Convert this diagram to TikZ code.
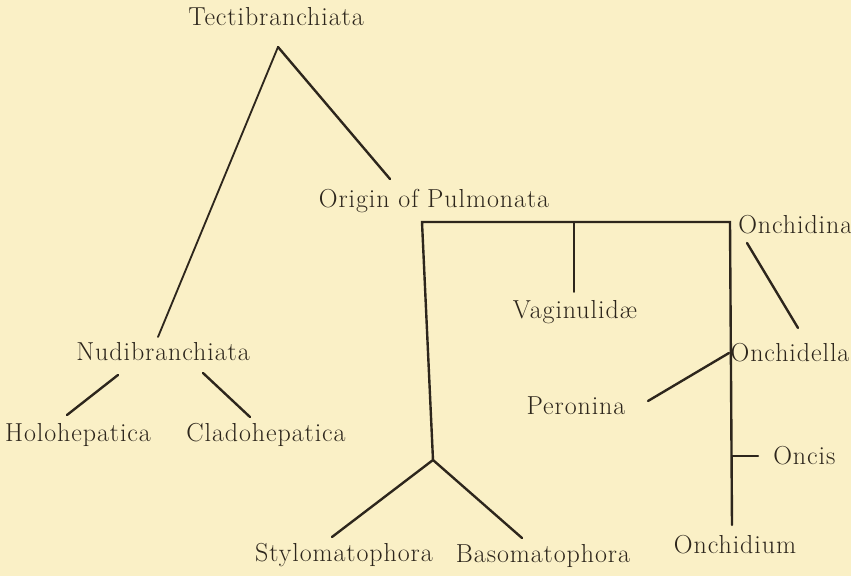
\documentclass[tikz,border=0pt]{standalone}
\usepackage{fontspec}
\setmainfont{Latin Modern Roman}[LetterSpace=3.5]
\definecolor{paper}{RGB}{250,240,198}
\definecolor{ink}{RGB}{45,38,28}
\begin{document}
\begin{tikzpicture}[x=0.025cm,y=-0.025cm,
  lbl/.style={inner sep=0pt,text=ink,font=\fontsize{18.5}{21}\selectfont},
  br/.style={draw=ink,line width=1.7pt,line cap=round,line join=miter},
  thin br/.style={br,line width=1.3pt}]
\fill[paper] (0,0) rectangle (851,576);
\useasboundingbox (0,0) rectangle (851,576);
% labels
\node[lbl] (tecti) at (276,17) {Tectibranchiata};
\node[lbl] (origin) at (434,201) {Origin of Pulmonata};
\node[lbl] (nudi) at (163,352) {Nudibranchiata};
\node[lbl] (holo) at (78,435) {Holohepatica};
\node[lbl] (clado) at (266,435) {Cladohepatica};
\node[lbl] (vagin) at (575,312) {Vaginulid\ae};
\node[lbl,anchor=west] (onchidina) at (738,225) {Onchidina};
\node[lbl] (onchidella) at (790,353) {Onchidella};
\node[lbl] (peronina) at (576,406) {Peronina};
\node[lbl,anchor=west] (oncis) at (773,456) {Oncis};
\node[lbl] (onchidium) at (735,545) {Onchidium};
\node[lbl] (stylo) at (344,555) {Stylomatophora};
\node[lbl] (baso) at (543,556) {Basomatophora};
% junction coordinates
\coordinate (apex) at (278,47);
\coordinate (nudiTop) at (158,337);
\coordinate (origTop) at (390,179);
\coordinate (holoA) at (118,375);
\coordinate (holoB) at (67,415);
\coordinate (cladoA) at (203,373);
\coordinate (cladoB) at (250,417);
\coordinate (boxTL) at (422,222);
\coordinate (boxTR) at (730,222);
\coordinate (fork) at (433,460);
\coordinate (rightBot) at (732,525);
\coordinate (vagTop) at (574,222);
\coordinate (vagBot) at (574,292);
\coordinate (ondA) at (747,243);
\coordinate (ondB) at (798,328);
\coordinate (perA) at (648,401);
\coordinate (perB) at (729,353);
\coordinate (oncA) at (732,456);
\coordinate (oncB) at (758,456);
\coordinate (styloEnd) at (332,537);
\coordinate (basoEnd) at (522,538);
% branches
\draw[thin br] (apex) -- (nudiTop);
\draw[br] (apex) -- (origTop);
\draw[br] (holoA) -- (holoB);
\draw[br] (cladoA) -- (cladoB);
\draw[br] (fork) -- (boxTL) -- (boxTR) -- (rightBot);
\draw[thin br] (vagTop) -- (vagBot);
\draw[br] (ondA) -- (ondB);
\draw[br] (perA) -- (perB);
\draw[br] (oncA) -- (oncB);
\draw[br] (fork) -- (styloEnd);
\draw[br] (fork) -- (basoEnd);
\end{tikzpicture}
\end{document}
